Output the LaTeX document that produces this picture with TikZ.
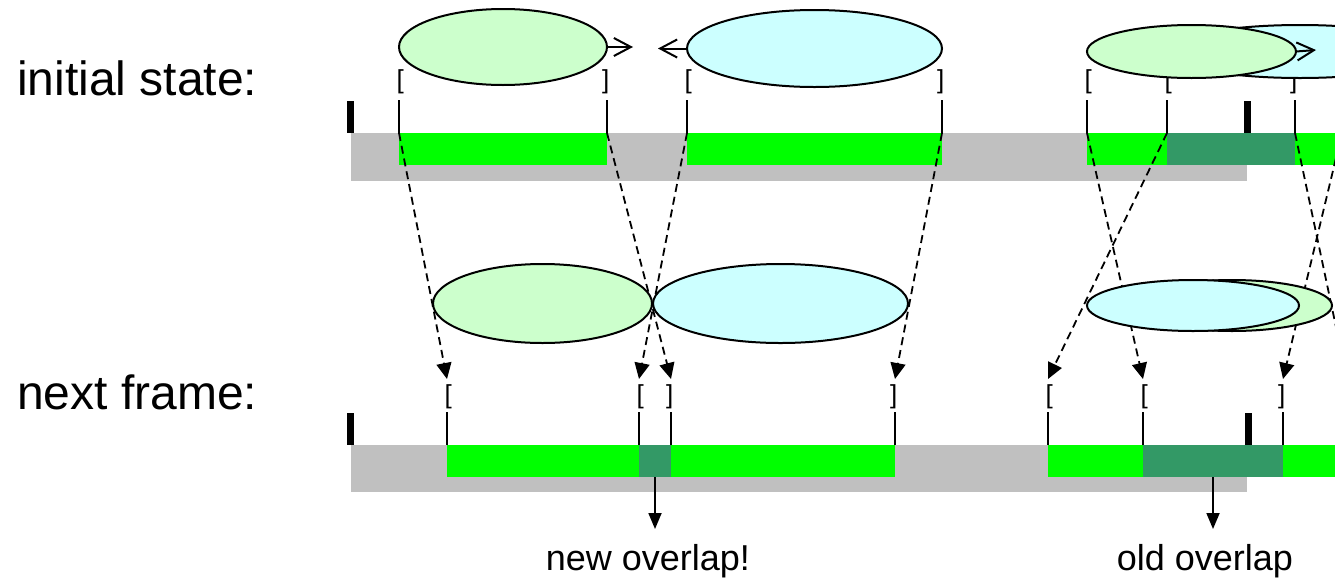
\documentclass[tikz,border=0pt]{standalone}
\usepackage{fontspec}
\setmainfont{Liberation Sans}
\usetikzlibrary{shapes.geometric,arrows.meta}
\definecolor{lgreen}{HTML}{CCFFCC}
\definecolor{lcyan}{HTML}{CCFFFF}
\definecolor{bgreen}{HTML}{00FF00}
\definecolor{dgreen}{HTML}{339966}
\definecolor{bargray}{HTML}{C0C0C0}
\begin{document}
\begin{tikzpicture}[x=1pt,y=-1pt,
  blob/.style={ellipse,draw=black,line width=2pt,inner sep=0pt,outer sep=0pt},
  gblob/.style={blob,fill=lgreen},
  cblob/.style={blob,fill=lcyan},
  brk/.style={inner sep=0pt,font=\fontsize{26}{26}\selectfont},
  lab/.style={inner sep=0pt,font=\fontsize{48}{56}\selectfont},
  note/.style={inner sep=0pt,font=\fontsize{36}{42}\selectfont},
  projline/.style={dash pattern=on 8pt off 5pt,line width=1.8pt,-{Triangle[length=16pt,width=15pt]}},
  pusharrow/.style={line width=2pt,-{Straight Barb[length=17pt,width=18pt,line width=2pt]}},
  downarrow/.style={line width=1.8pt,-{Triangle[length=16pt,width=13pt]}},
  leg/.style={line width=2pt},
  tickbar/.style={fill=black}
]
\useasboundingbox (0,0) rectangle (1335,579);
\clip (0,0) rectangle (1335,579);
\fill[white] (0,0) rectangle (1335,579);

% ---------- labels ----------
\node[lab,anchor=base west] (lInit) at (17,95) {initial state:};
\node[lab,anchor=base west] (lNext) at (17,409) {next frame:};
\node[note,anchor=base] (lNew) at (648,570) {new overlap!};
\node[note,anchor=base] (lOld) at (1205,570) {old overlap};

% ---------- top row bars ----------
\fill[bargray] (351,133) rectangle (1247,181);
\fill[bgreen] (399,133) rectangle (607,165);
\fill[bgreen] (687,133) rectangle (942,165);
\fill[bgreen] (1087,133) rectangle (1167,165);
\fill[dgreen] (1167,133) rectangle (1295,165);
\fill[bgreen] (1295,133) rectangle (1340,165);
\fill[tickbar] (347,101) rectangle (354,133);
\fill[tickbar] (1244,101) rectangle (1251,133);
\foreach \x in {399,607,687,942,1087,1167,1295}
  \draw[leg] (\x,100) -- (\x,133);

% brackets top
\node[brk,anchor=base west] (bt1) at (396.5,88) {[};
\node[brk,anchor=base east] (bt2) at (609.5,88) {]};
\node[brk,anchor=base west] (bt3) at (684.5,88) {[};
\node[brk,anchor=base east] (bt4) at (944.5,88) {]};
\node[brk,anchor=base west] (bt5) at (1084.5,88) {[};
\node[brk,anchor=base west] (bt6) at (1164.5,88) {[};
\node[brk,anchor=base east] (bt7) at (1297.5,88) {]};

% top ellipses
\node[gblob,minimum width=208pt,minimum height=76pt] (tg1) at (503,47) {};
\node[cblob,minimum width=255pt,minimum height=77pt] (tc1) at (814.5,48.5) {};
\coordinate (tg1tip) at (633,47);
\coordinate (tc1tip) at (658,48.5);
\draw[pusharrow] (tg1.east) -- (tg1tip);
\draw[pusharrow] (tc1.west) -- (tc1tip);
\node[cblob,minimum width=270pt,minimum height=53pt] (tc2) at (1300,51.5) {};
\coordinate (tg2tip) at (1316,50);
\node[gblob,minimum width=209pt,minimum height=53pt] (tg2) at (1191.5,51.5) {};
\draw[pusharrow] (tg2.east) -- (tg2tip);

% ---------- bottom row bars ----------
\fill[bargray] (351,445) rectangle (1247,492);
\fill[bgreen] (447,445) rectangle (639,477);
\fill[dgreen] (639,445) rectangle (671,477);
\fill[bgreen] (671,445) rectangle (895,477);
\fill[bgreen] (1048,445) rectangle (1143,477);
\fill[dgreen] (1143,445) rectangle (1283,477);
\fill[bgreen] (1283,445) rectangle (1340,477);
\fill[tickbar] (347,413) rectangle (354,445);
\fill[tickbar] (1245,413) rectangle (1252,445);
\foreach \x in {447,639,671,895,1048,1143,1283}
  \draw[leg] (\x,412) -- (\x,445);

\node[brk,anchor=base west] (bb1) at (444.5,403) {[};
\node[brk,anchor=base west] (bb2) at (636.5,403) {[};
\node[brk,anchor=base east] (bb3) at (673.5,403) {]};
\node[brk,anchor=base east] (bb4) at (897.5,403) {]};
\node[brk,anchor=base west] (bb5) at (1045.5,403) {[};
\node[brk,anchor=base west] (bb6) at (1140.5,403) {[};
\node[brk,anchor=base east] (bb7) at (1285.5,403) {]};

% ---------- projection lines ----------
\coordinate (s1) at (399,133);  \coordinate (e1) at (447,379);
\coordinate (s2) at (607,133);  \coordinate (e2) at (671,379);
\coordinate (s3) at (687,133);  \coordinate (e3) at (639,379);
\coordinate (s4) at (942,133);  \coordinate (e4) at (895,379);
\coordinate (s5) at (1087,133); \coordinate (e5) at (1143,379);
\coordinate (s6) at (1167,133); \coordinate (e6) at (1048,379);
\coordinate (s7) at (1295,133); \coordinate (e7) at (1347,379);
\coordinate (s8) at (1342,133); \coordinate (e8) at (1283,379);
\foreach \i in {1,...,8}
  \draw[projline] (s\i) -- (e\i);

% middle ellipses (drawn over the projection lines)
\node[gblob,minimum width=219pt,minimum height=79pt] (mg1) at (542.5,303.5) {};
\node[cblob,minimum width=255pt,minimum height=79pt] (mc1) at (780.5,303.5) {};
\node[gblob,minimum width=200pt,minimum height=51pt] (mg2) at (1232,305.5) {};
\node[cblob,minimum width=212pt,minimum height=51pt] (mc2) at (1193,305.5) {};

% ---------- overlap arrows ----------
\coordinate (ov1) at (655,477); \coordinate (ov1tip) at (655,529);
\coordinate (ov2) at (1213,477); \coordinate (ov2tip) at (1213,529);
\draw[downarrow] (ov1) -- (ov1tip);
\draw[downarrow] (ov2) -- (ov2tip);
\end{tikzpicture}
\end{document}
